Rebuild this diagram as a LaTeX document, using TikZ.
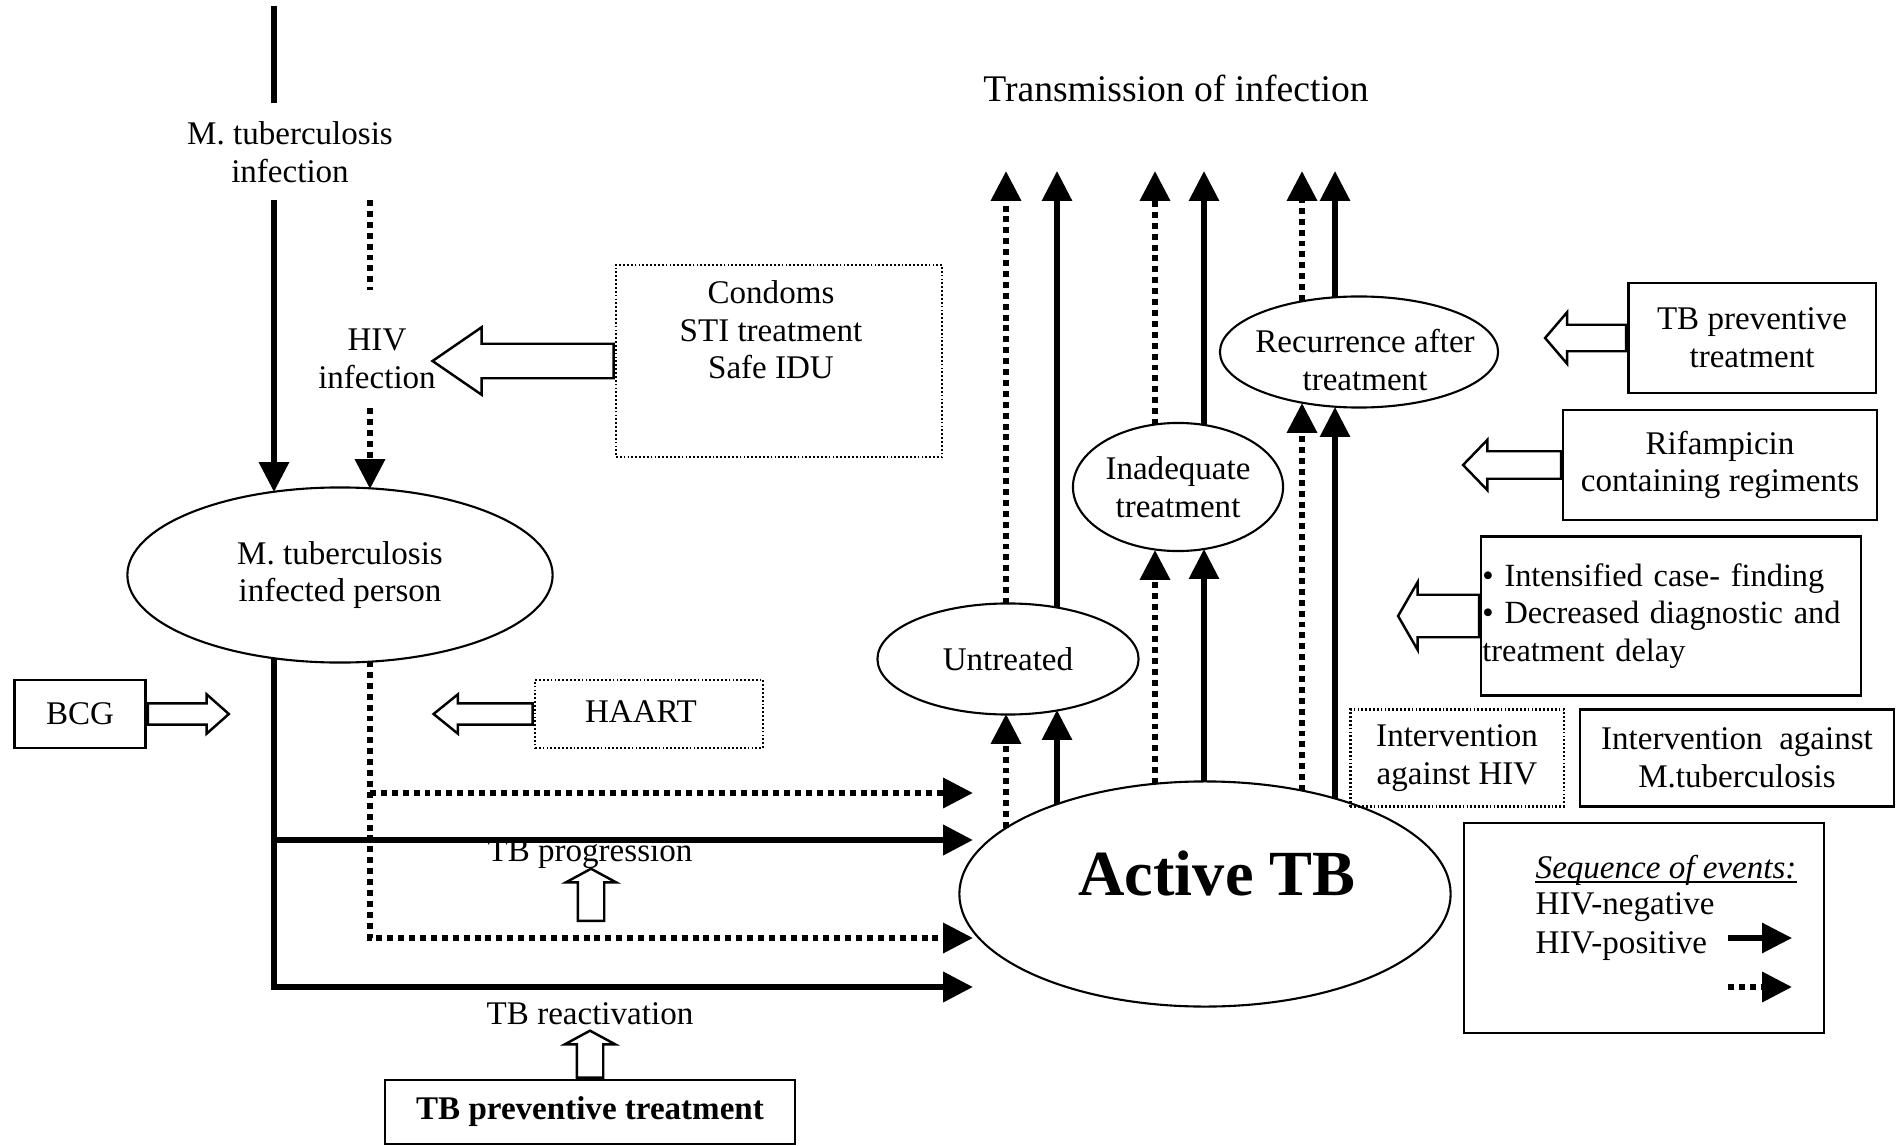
\documentclass[tikz,border=0pt]{standalone}
\usepackage{fontspec}
\setmainfont{Liberation Serif}
\usetikzlibrary{arrows.meta}
\usetikzlibrary{shapes.geometric}
\usetikzlibrary{shapes.arrows}
\usetikzlibrary{positioning}
\tikzset{txt/.style = {font=\fontsize{9.4}{10.7}\selectfont, align=center, inner sep=0}}
\tikzset{ebox/.style = {draw, line width=0.6pt, inner sep=0, txt}}
\tikzset{dbox/.style = {ebox, dash pattern=on 0.5pt off 0.6pt}}
\tikzset{oval/.style = {ellipse, draw, line width=0.6pt, inner sep=0, txt}}
\tikzset{hivneg/.style = {line width=1.5pt, -{Triangle[length=8.5pt, width=8.3pt]}}}
\tikzset{hivpos/.style = {hivneg, line width=1.7pt, dash pattern=on 1.7pt off 1.4pt}}
\tikzset{blk/.style = {single arrow, draw, line width=0.7pt, anchor=tail}}

\begin{document}
\begin{tikzpicture}[x=0.01cm, y=-0.01cm]
    \useasboundingbox (0,0) rectangle (1897,1146);

    % left column
    \node[txt] (mtbinf) at (290,152) {M. tuberculosis\\infection};
    \node[txt] (hivinf) at (377,359) {HIV\\infection};
    \node[oval, minimum width=4.25cm, minimum height=1.75cm] (infp) at (340,575) {M. tuberculosis\\infected person};

    \node[dbox, minimum width=3.26cm, minimum height=1.92cm] (cbox) at (779,361) {};
    \node[txt] (ctxt) at (771,330) {Condoms\\STI treatment\\Safe IDU};
    \node[ebox, minimum width=1.31cm, minimum height=0.68cm] (bcg) at (80,714) {BCG};
    \node[dbox, minimum width=2.28cm, minimum height=0.68cm] (haart) at (649,714) {};
    \node[txt] (haarttxt) at (641,712) {HAART};

    \node[txt] (prog) at (590,854) {TB progression};
    \node[txt] (react) at (590,1014) {TB reactivation};
    \node[ebox, minimum width=4.10cm, minimum height=0.64cm, font=\fontsize{9.4}{10.7}\selectfont\bfseries] (tbpt) at (590,1112) {TB preventive treatment};

    % right part
    \node[txt, font=\fontsize{10.7}{12}\selectfont] (trans) at (1176,88) {Transmission of infection};
    \node[oval, minimum width=4.91cm, minimum height=2.25cm] (atb) at (1205,894) {};
    \node[font=\fontsize{18.3}{20}\selectfont\bfseries, inner sep=0] (atbtxt) at (1217,873) {Active TB};
    \node[oval, minimum width=2.61cm, minimum height=1.11cm] (untr) at (1008,659) {Untreated};
    \node[oval, minimum width=2.10cm, minimum height=1.28cm] (inad) at (1178,487) {Inadequate\\treatment};
    \node[oval, minimum width=2.78cm, minimum height=1.11cm] (recur) at (1359,352) {};
    \node[txt] (recurtxt) at (1365,360) {Recurrence after\\treatment};

    \node[ebox, minimum width=2.47cm, minimum height=1.10cm] (tbpr) at (1752,338) {TB preventive\\treatment};
    \node[ebox, minimum width=3.13cm, minimum height=1.10cm] (rif) at (1720,465) {Rifampicin\\containing regiments};
    \node[ebox, minimum width=3.79cm, minimum height=1.59cm, text width=3.77cm, align=left,
        font=\fontsize{9.2}{10.7}\selectfont] (icf) at (1671,616)
        {\textbullet{} Intensified case- finding\\\textbullet{} Decreased diagnostic\ and\\treatment delay};
    \node[dbox, minimum width=2.13cm, minimum height=0.97cm] (ihiv) at (1457,758) {Intervention\\against HIV};
    \node[ebox, minimum width=3.14cm, minimum height=0.97cm] (imtb) at (1737,758) {Intervention\ \ against\\M.tuberculosis};

    % legend
    \node[ebox, minimum width=3.59cm, minimum height=2.09cm] (leg) at (1644,928) {};
    \node[txt, anchor=base west, font=\fontsize{9.4}{10.7}\selectfont\itshape] (seq) at (1535,878) {Sequence of events:};
    \draw[line width=0.5pt] ([yshift=-1.2pt]seq.base west) -- ([yshift=-1.2pt]seq.base east);
    \node[txt, anchor=base west] (hneg) at (1535,914) {HIV-negative};
    \node[txt, anchor=base west] (hpos) at (1535,953) {HIV-positive};
    \coordinate (la) at (1728,938);
    \coordinate (lb) at (1792,938);
    \coordinate (lc) at (1728,987);
    \coordinate (ld) at (1792,987);
    \draw[hivneg] (la) -- (lb);
    \draw[hivpos] (lc) -- (ld);

    % hollow arrows
    \node[blk, shape border rotate=180, inner sep=0.16cm, minimum height=1.81cm,
        single arrow head extend=0.165cm, single arrow tip angle=69] (acbox) at (cbox.west) {};
    \node[blk, inner sep=0.093cm, minimum height=0.81cm,
        single arrow head extend=0.092cm, single arrow tip angle=83] (abcg) at (bcg.east) {};
    \node[blk, shape border rotate=180, inner sep=0.093cm, minimum height=0.99cm,
        single arrow head extend=0.092cm, single arrow tip angle=78] (ahaart) at (haart.west) {};
    \coordinate (pbase) at (591,922);
    \node[blk, shape border rotate=90, inner sep=0.12cm, minimum height=0.52cm,
        single arrow head extend=0.12cm, single arrow tip angle=123] (aprog) at (pbase) {};
    \node[blk, shape border rotate=90, inner sep=0.12cm, minimum height=0.47cm,
        single arrow head extend=0.12cm, single arrow tip angle=123] (areact) at (tbpt.north) {};
    \node[blk, shape border rotate=180, inner sep=0.12cm, minimum height=0.81cm,
        single arrow head extend=0.125cm, single arrow tip angle=99] (atbpr) at (tbpr.west) {};
    \node[blk, shape border rotate=180, inner sep=0.125cm, minimum height=0.98cm,
        single arrow head extend=0.115cm, single arrow tip angle=92] (arif) at (rif.west) {};
    \node[blk, shape border rotate=180, inner sep=0.2cm, minimum height=0.81cm,
        single arrow head extend=0.125cm, single arrow tip angle=120] (aicf) at (icf.west) {};

    % points on the rims of the ovals
    \foreach \n/\x/\y in {n0/274/6, n1/274/103, n2/274/200, p0/370/200, p1/370/290, p2/370/408,
        it274/274/492, it370/370/489, ib274/274/658, ib370/370/661,
        ta/973/793, tb/973/840, tc/973/938, td/973/987,
        ra1/1006/828, ra2/1057/804, ra3/1155/784, ra4/1204/781, ra5/1302/791, ra6/1335/798,
        ub1/1006/714, ub2/1057/710, ut1/1006/604, ut2/1057/608,
        ib1/1155/550, ib2/1204/549, it1/1155/425, it2/1204/425,
        rb1/1302/403, rb2/1335/407, rt1/1302/301, rt2/1335/297,
        tp1/1006/171, tp2/1057/171, tp3/1155/171, tp4/1204/171, tp5/1302/171, tp6/1335/171}
        \coordinate (\n) at (\x,\y);

    % into the infected person
    \draw[line width=1.6pt] (n0) -- (n1);
    \draw[hivneg, line width=1.6pt] (n2) -- (it274);
    \draw[line width=1.7pt, dash pattern=on 1.7pt off 1.4pt] (p0) -- (p1);
    \draw[hivpos] (p2) -- (it370);

    % towards active TB
    \draw[hivneg, line width=1.8pt] (ib274) -- (ib274 |- td) -- (td);
    \draw[hivneg, line width=1.8pt] (ib274 |- tb) -- (tb);
    \draw[hivpos] (ib370) -- (ib370 |- tc) -- (tc);
    \draw[hivpos] (ib370 |- ta) -- (ta);

    % out of active TB
    \draw[hivpos] (ra1) -- (ub1);
    \draw[hivneg] (ra2) -- (ub2);
    \draw[hivpos] (ut1) -- (tp1);
    \draw[hivneg] (ut2) -- (tp2);
    \draw[hivpos] (ra3) -- (ib1);
    \draw[hivneg] (ra4) -- (ib2);
    \draw[hivpos] (it1) -- (tp3);
    \draw[hivneg] (it2) -- (tp4);
    \draw[hivpos] (ra5) -- (rb1);
    \draw[hivneg] (ra6) -- (rb2);
    \draw[hivpos] (rt1) -- (tp5);
    \draw[hivneg] (rt2) -- (tp6);
\end{tikzpicture}
\end{document}
